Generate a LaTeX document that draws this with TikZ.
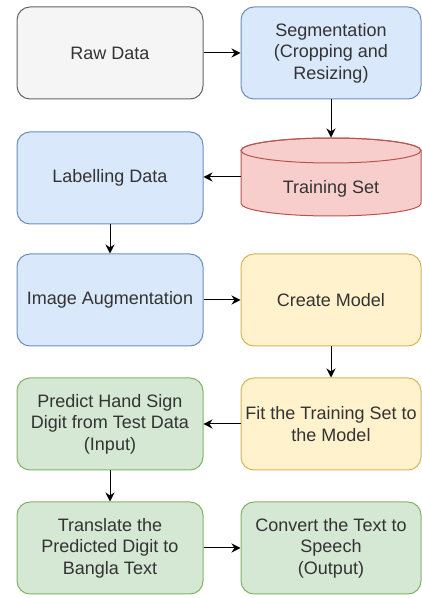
\documentclass[tikz,border=0pt]{standalone}
\usepackage{fontspec}
\setmainfont{Liberation Sans}
\usetikzlibrary{arrows.meta}
\definecolor{grayfill}{HTML}{F5F5F5}
\definecolor{grayline}{HTML}{666666}
\definecolor{bluefill}{HTML}{DAE8FC}
\definecolor{blueline}{HTML}{6C8EBF}
\definecolor{redfill}{HTML}{F8CECC}
\definecolor{redline}{HTML}{B85450}
\definecolor{yellowfill}{HTML}{FFF2CC}
\definecolor{yellowline}{HTML}{D6B656}
\definecolor{greenfill}{HTML}{D5E8D4}
\definecolor{greenline}{HTML}{82B366}
\definecolor{txtgray}{HTML}{333333}
\begin{document}
\begin{tikzpicture}[x=1pt, y=1pt, line width=1pt,
  box/.style={rectangle, rounded corners=13pt, minimum width=186pt, minimum height=92pt,
    align=center, inner sep=0pt, text=txtgray, font=\fontsize{18}{21.5}\selectfont},
  rbox/.style={box, minimum width=180pt},
  graybox/.style={draw=grayline, fill=grayfill},
  bluebox/.style={draw=blueline, fill=bluefill},
  yellowbox/.style={draw=yellowline, fill=yellowfill},
  greenbox/.style={draw=greenline, fill=greenfill},
  flow/.style={-{Stealth[length=9pt, width=9pt]}, black}]

\useasboundingbox (0,0) rectangle (422,598);

\node [box, graybox] (raw) at (110,545) {Raw Data};
\node [rbox, bluebox] (seg) at (331,545) {Segmentation\\(Cropping and\\Resizing)};

\node [box, bluebox] (label) at (110,420) {Labelling Data};
\path [fill=redfill, draw=redline] (241,447.5) -- (241,394.5)
  arc [start angle=180, end angle=360, x radius=90, y radius=12.5]
  -- (421,447.5)
  arc [start angle=0, end angle=180, x radius=90, y radius=12.5] -- cycle;
\draw [redline] (331,447.5) ellipse [x radius=90, y radius=12.5];
\node [rectangle, minimum width=180pt, minimum height=78pt, inner sep=0pt] (train) at (331,421) {};
\node [text=txtgray, font=\fontsize{18}{21.5}\selectfont] (trainlbl) at (331,409) {Training Set};

\node [box, bluebox] (aug) at (110,298) {Image Augmentation};
\node [rbox, yellowbox] (model) at (331,298) {Create Model};

\node [box, greenbox] (predict) at (110,174) {Predict Hand Sign\\Digit from Test Data\\(Input)};
\node [rbox, yellowbox] (fit) at (331,174) {Fit the Training Set to\\the Model};

\node [box, greenbox] (translate) at (110,50) {Translate the\\Predicted Digit to\\Bangla Text};
\node [rbox, greenbox] (speech) at (331,50) {Convert the Text to\\Speech\\(Output)};

\draw [flow] (raw) -- (seg);
\draw [flow] (seg) -- (train.north);
\draw [flow] (train.west) -- (label.east |- train.west);
\draw [flow] (label) -- (aug);
\draw [flow] (aug) -- (model);
\draw [flow] (model) -- (fit);
\draw [flow] (fit) -- (predict);
\draw [flow] (predict) -- (translate);
\draw [flow] (translate) -- (speech);

\end{tikzpicture}
\end{document}
